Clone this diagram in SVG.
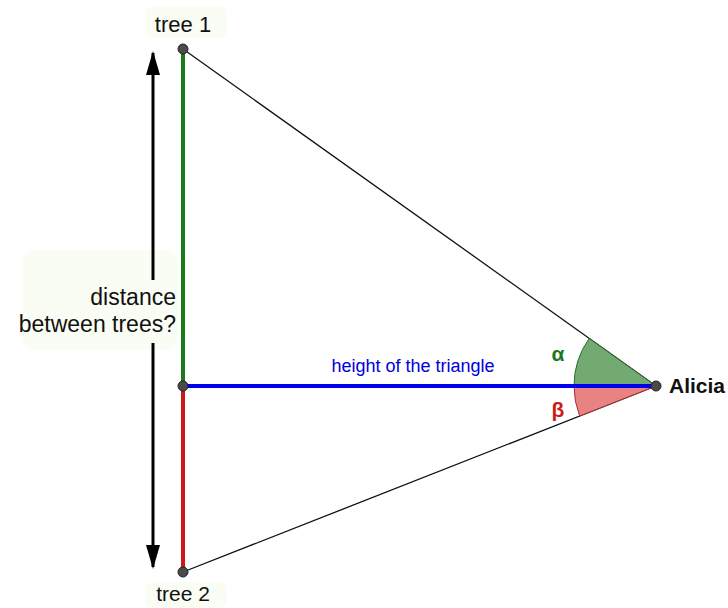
<svg xmlns="http://www.w3.org/2000/svg" width="728" height="608" viewBox="0 0 728 608">
  <style>
    .lbl { font-family: "Liberation Sans", Arial, sans-serif; fill: #111; }
    .pt { fill: #4a4a4a; stroke: #222; stroke-width: 1; }
    .side { stroke: #111; stroke-width: 1.3; fill: none; }
    .tint { fill: #fafdf4; }
  </style>
  <defs>
    <marker id="ah" markerUnits="userSpaceOnUse" markerWidth="24" markerHeight="14" refX="22" refY="7" viewBox="0 0 24 14" orient="auto-start-reverse">
      <path d="M0,0 L24,7 L0,14 Z" fill="#000"/>
    </marker>
  </defs>
  <rect width="728" height="608" fill="#ffffff"/>

  <!-- label tints -->
  <rect class="tint" x="145" y="6" width="82" height="32" rx="8"/>
  <rect class="tint" x="145" y="582" width="82" height="26" rx="8"/>
  <rect class="tint" x="22" y="250" width="156" height="100" rx="14"/>

  <g id="connectors">
    <line x1="153" y1="53" x2="153" y2="280" stroke="#000" stroke-width="3" marker-start="url(#ah)"/>
    <line x1="153" y1="343" x2="153" y2="567" stroke="#000" stroke-width="3" marker-end="url(#ah)"/>
    <line class="side" x1="183" y1="49" x2="656" y2="386"/>
    <line class="side" x1="183" y1="572" x2="656" y2="386"/>
    <path d="M656,386 L589.2,338.4 A82,82 0 0,0 574,386 Z" fill="#72aa72" stroke="#2e6e2e" stroke-width="1"/>
    <path d="M656,386 L574,386 A82,82 0 0,0 579.7,416 Z" fill="#e98383" stroke="#a83030" stroke-width="1"/>
    <line x1="183" y1="49" x2="183" y2="386" stroke="#1a7a1a" stroke-width="4"/>
    <line x1="183" y1="386" x2="183" y2="572" stroke="#cc1a1a" stroke-width="4"/>
    <line x1="183" y1="386" x2="656" y2="386" stroke="#0000ee" stroke-width="4"/>
  </g>

  <g id="tree1">
    <circle class="pt" cx="183" cy="49" r="5"/>
    <text class="lbl" x="183" y="32" font-size="22" text-anchor="middle">tree 1</text>
  </g>
  <g id="tree2">
    <circle class="pt" cx="183" cy="572" r="5"/>
    <text class="lbl" x="183" y="601" font-size="21" text-anchor="middle">tree 2</text>
  </g>
  <g id="foot">
    <circle class="pt" cx="183" cy="386" r="5"/>
  </g>
  <g id="alicia">
    <circle class="pt" cx="656" cy="386" r="5"/>
    <text class="lbl" x="669" y="393" font-size="21" font-weight="bold">Alicia</text>
  </g>
  <g id="labels">
    <text class="lbl" x="176" y="305" font-size="23" text-anchor="end">distance</text>
    <text class="lbl" x="176" y="332" font-size="23" text-anchor="end">between trees?</text>
    <text class="lbl" x="413" y="372" font-size="18" text-anchor="middle" style="fill:#0000dd">height of the triangle</text>
    <text class="lbl" x="558" y="361" font-size="21" font-weight="bold" text-anchor="middle" style="fill:#1a7a1a">α</text>
    <text class="lbl" x="558" y="417" font-size="21" font-weight="bold" text-anchor="middle" style="fill:#cc1a1a">β</text>
  </g>
</svg>
